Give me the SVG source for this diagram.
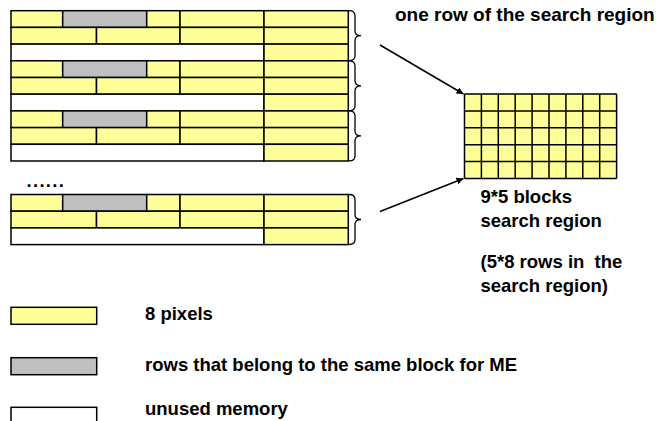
<svg xmlns="http://www.w3.org/2000/svg" width="670" height="421" viewBox="0 0 670 421">
  <style>
    .y { fill: #FFFF99; stroke: #000; stroke-width: 1.5; }
    .g { fill: #C0C0C0; stroke: #000; stroke-width: 1.5; }
    .w { fill: #FFFFFF; stroke: #000; stroke-width: 1.5; }
    .brace { fill: none; stroke: #000; stroke-width: 1.3; }
    .grid { fill: none; stroke: #000; stroke-width: 1.5; }
    .arrow { fill: none; stroke: #000; stroke-width: 1.5; marker-end: url(#head); }
    text { font-family: "Liberation Sans", Arial, sans-serif; font-weight: bold; font-size: 18.5px; fill: #000; }
  </style>
  <defs>
    <marker id="head" viewBox="0 0 10 10" refX="10" refY="5" markerWidth="7" markerHeight="7" markerUnits="userSpaceOnUse" orient="auto">
      <path d="M0,0 L10,5 L0,10 Z" fill="#000"/>
    </marker>
  </defs>

  <!-- memory rows: each group holds three lines of 8-pixel words -->
  <g id="mem-1" transform="translate(0,10.7)">
    <rect class="y" x="11" y="0" width="51.7" height="16.7"/>
    <rect class="g" x="62.7" y="0" width="84" height="16.7"/>
    <rect class="y" x="146.7" y="0" width="33.3" height="16.7"/>
    <rect class="y" x="180" y="0" width="84" height="16.7"/>
    <rect class="y" x="264" y="0" width="84.3" height="16.7"/>
    <rect class="y" x="11" y="16.7" width="85.5" height="16.7"/>
    <rect class="y" x="96.5" y="16.7" width="83.5" height="16.7"/>
    <rect class="y" x="180" y="16.7" width="84" height="16.7"/>
    <rect class="y" x="264" y="16.7" width="84.3" height="16.7"/>
    <rect class="w" x="11" y="33.4" width="253" height="16.7"/>
    <rect class="y" x="264" y="33.4" width="84.3" height="16.7"/>
    <path class="brace" d="M349,0 Q355,0 355,5 V20 Q355,25 361,25 Q355,25 355,30 V45 Q355,50 349,50"/>
  </g>
  <g id="mem-2" transform="translate(0,60.8)">
    <rect class="y" x="11" y="0" width="51.7" height="16.7"/>
    <rect class="g" x="62.7" y="0" width="84" height="16.7"/>
    <rect class="y" x="146.7" y="0" width="33.3" height="16.7"/>
    <rect class="y" x="180" y="0" width="84" height="16.7"/>
    <rect class="y" x="264" y="0" width="84.3" height="16.7"/>
    <rect class="y" x="11" y="16.7" width="85.5" height="16.7"/>
    <rect class="y" x="96.5" y="16.7" width="83.5" height="16.7"/>
    <rect class="y" x="180" y="16.7" width="84" height="16.7"/>
    <rect class="y" x="264" y="16.7" width="84.3" height="16.7"/>
    <rect class="w" x="11" y="33.4" width="253" height="16.7"/>
    <rect class="y" x="264" y="33.4" width="84.3" height="16.7"/>
    <path class="brace" d="M349,0 Q355,0 355,5 V20 Q355,25 361,25 Q355,25 355,30 V45 Q355,50 349,50"/>
  </g>
  <g id="mem-3" transform="translate(0,110.9)">
    <rect class="y" x="11" y="0" width="51.7" height="16.7"/>
    <rect class="g" x="62.7" y="0" width="84" height="16.7"/>
    <rect class="y" x="146.7" y="0" width="33.3" height="16.7"/>
    <rect class="y" x="180" y="0" width="84" height="16.7"/>
    <rect class="y" x="264" y="0" width="84.3" height="16.7"/>
    <rect class="y" x="11" y="16.7" width="85.5" height="16.7"/>
    <rect class="y" x="96.5" y="16.7" width="83.5" height="16.7"/>
    <rect class="y" x="180" y="16.7" width="84" height="16.7"/>
    <rect class="y" x="264" y="16.7" width="84.3" height="16.7"/>
    <rect class="w" x="11" y="33.4" width="253" height="16.7"/>
    <rect class="y" x="264" y="33.4" width="84.3" height="16.7"/>
    <path class="brace" d="M349,0 Q355,0 355,5 V20 Q355,25 361,25 Q355,25 355,30 V45 Q355,50 349,50"/>
  </g>
  <g id="ellipsis">
    <text x="26.5" y="187" letter-spacing="1.3">......</text>
  </g>
  <g id="mem-4" transform="translate(0,194.5)">
    <rect class="y" x="11" y="0" width="51.7" height="16.7"/>
    <rect class="g" x="62.7" y="0" width="84" height="16.7"/>
    <rect class="y" x="146.7" y="0" width="33.3" height="16.7"/>
    <rect class="y" x="180" y="0" width="84" height="16.7"/>
    <rect class="y" x="264" y="0" width="84.3" height="16.7"/>
    <rect class="y" x="11" y="16.7" width="85.5" height="16.7"/>
    <rect class="y" x="96.5" y="16.7" width="83.5" height="16.7"/>
    <rect class="y" x="180" y="16.7" width="84" height="16.7"/>
    <rect class="y" x="264" y="16.7" width="84.3" height="16.7"/>
    <rect class="w" x="11" y="33.4" width="253" height="16.7"/>
    <rect class="y" x="264" y="33.4" width="84.3" height="16.7"/>
    <path class="brace" d="M349,0 Q355,0 355,5 V20 Q355,25 361,25 Q355,25 355,30 V45 Q355,50 349,50"/>
  </g>

  <!-- 9 x 5 block search region -->
  <g id="search-grid">
    <rect x="464.5" y="94" width="152.1" height="84.5" fill="#FFFF99"/>
    <path class="grid" d="M464.5,94 V178.5 M481.4,94 V178.5 M498.3,94 V178.5 M515.2,94 V178.5 M532.1,94 V178.5 M549,94 V178.5 M565.9,94 V178.5 M582.8,94 V178.5 M599.7,94 V178.5 M616.6,94 V178.5 M464.5,94 H616.6 M464.5,110.9 H616.6 M464.5,127.8 H616.6 M464.5,144.7 H616.6 M464.5,161.6 H616.6 M464.5,178.5 H616.6"/>
  </g>

  <g id="label-row">
    <text x="395" y="20.5" style="font-size:19px">one row of the search region</text>
  </g>
  <g id="label-region">
    <text x="480.5" y="203.3">9*5 blocks</text>
    <text x="480.5" y="226.7">search region</text>
    <text x="480.5" y="268.3" xml:space="preserve">(5*8 rows in  the</text>
    <text x="480.5" y="291.5">search region)</text>
  </g>

  <!-- connectors -->
  <g id="connectors">
    <line class="arrow" x1="380" y1="45" x2="463.5" y2="94"/>
    <line class="arrow" x1="380" y1="211.5" x2="463.5" y2="178.5"/>
  </g>

  <!-- legend -->
  <g id="legend-pixels">
    <rect class="y" x="11" y="307.3" width="85.7" height="17"/>
    <text x="145" y="320">8 pixels</text>
  </g>
  <g id="legend-block">
    <rect class="g" x="11" y="357.7" width="85.7" height="17"/>
    <text x="145" y="371">rows that belong to the same block for ME</text>
  </g>
  <g id="legend-unused">
    <rect class="w" x="11" y="407.3" width="85.7" height="17"/>
    <text x="145" y="415">unused memory</text>
  </g>
</svg>
